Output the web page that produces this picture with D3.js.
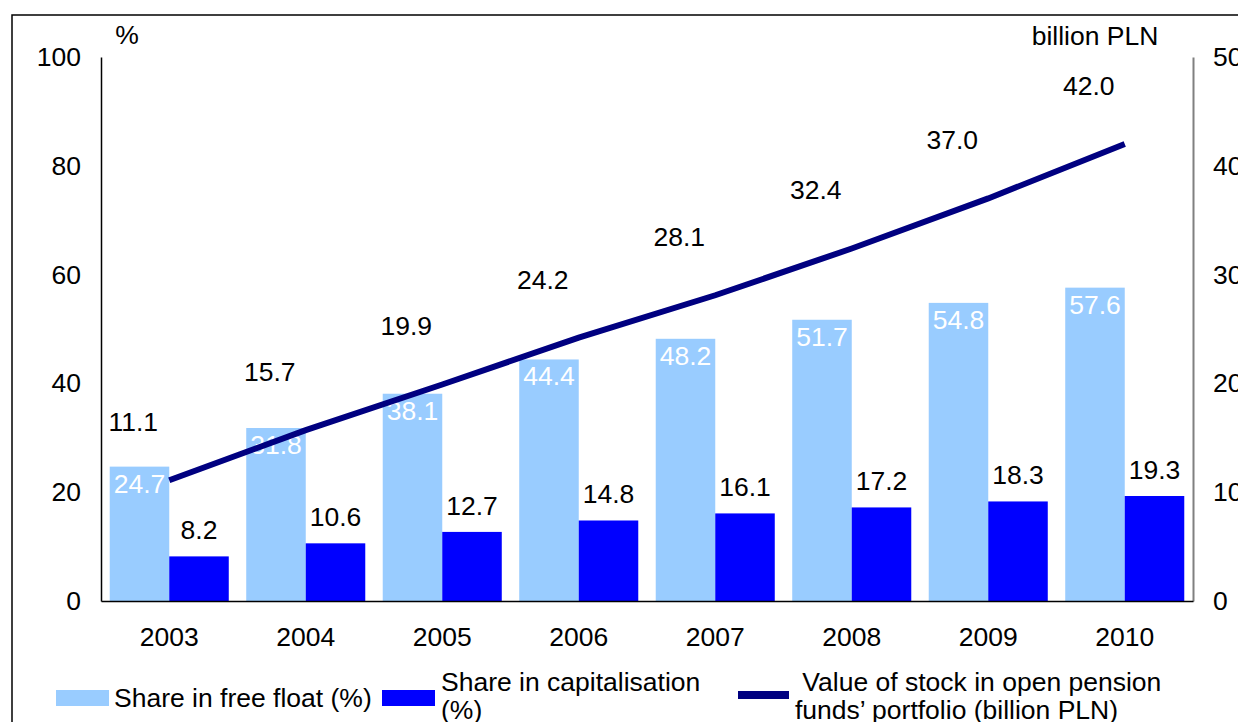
<!DOCTYPE html>
<html>
<head>
<meta charset="utf-8">
<script src="https://cdn.jsdelivr.net/npm/d3@7"></script>
<style>
  body { margin: 0; background: #fff; }
  svg { display: block; font-family: "Liberation Sans", Arial, sans-serif; }
</style>
</head>
<body>
<div class="chart"></div>
<script>
// chart data
var years = ['2003', '2004', '2005', '2006', '2007', '2008', '2009', '2010'];
var freeFloat = [24.7, 31.8, 38.1, 44.4, 48.2, 51.7, 54.8, 57.6];      // %
var capitalisation = [8.2, 10.6, 12.7, 14.8, 16.1, 17.2, 18.3, 19.3];  // %
var stockValue = [11.1, 15.7, 19.9, 24.2, 28.1, 32.4, 37.0, 42.0];     // billion PLN
var leftTicks = [0, 20, 40, 60, 80, 100];
var rightTicks = [0, 10, 20, 30, 40, 50];

var width = 1238, height = 722;
var plot = { left: 101, right: 1193, top: 57, bottom: 601 };
var fontSize = 26.5;

var svg = d3.select('.chart')
  .append('svg')
  .attr('width', width)
  .attr('height', height);

// outer frame
svg.append('rect')
  .attr('x', 12).attr('y', 15)
  .attr('width', 1300).attr('height', 800)
  .attr('fill', 'none')
  .attr('stroke', '#000')
  .attr('stroke-width', 1.5);

// scales
var x0 = d3.scaleBand()
  .domain(years)
  .range([plot.left, plot.right])
  .paddingInner(0.128)
  .paddingOuter(0.064);

var x1 = d3.scaleBand()
  .domain(['free', 'cap'])
  .range([0, x0.bandwidth()]);

var yLeft = d3.scaleLinear().domain([0, 100]).range([plot.bottom, plot.top]);
var yRight = d3.scaleLinear().domain([0, 50]).range([plot.bottom, plot.top]);

var rows = years.map(function(y, i) {
  return { year: y, free: freeFloat[i], cap: capitalisation[i], value: stockValue[i] };
});

// bars
var groups = svg.append('g').selectAll('g')
  .data(rows)
  .enter().append('g')
  .attr('transform', function(d) { return 'translate(' + x0(d.year) + ',0)'; });

groups.append('rect')
  .attr('x', x1('free'))
  .attr('y', function(d) { return yLeft(d.free); })
  .attr('width', x1.bandwidth())
  .attr('height', function(d) { return plot.bottom - yLeft(d.free); })
  .attr('fill', '#99ccff');

groups.append('rect')
  .attr('x', x1('cap'))
  .attr('y', function(d) { return yLeft(d.cap); })
  .attr('width', x1.bandwidth())
  .attr('height', function(d) { return plot.bottom - yLeft(d.cap); })
  .attr('fill', '#0000ff');

// bar labels
groups.append('text')
  .attr('x', x1('free') + x1.bandwidth() / 2)
  .attr('y', function(d) { return yLeft(d.free) + 26; })
  .attr('text-anchor', 'middle')
  .attr('font-size', fontSize)
  .attr('fill', '#fff')
  .text(function(d) { return d.free.toFixed(1); });

groups.append('text')
  .attr('x', x1('cap') + x1.bandwidth() / 2)
  .attr('y', function(d) { return yLeft(d.cap) - 17; })
  .attr('text-anchor', 'middle')
  .attr('font-size', fontSize)
  .attr('fill', '#000')
  .text(function(d) { return d.cap.toFixed(1); });

// axes
var axisLeft = d3.axisLeft(yLeft).tickValues(leftTicks).tickSize(0).tickPadding(20);
var axisRight = d3.axisRight(yRight).tickValues(rightTicks).tickSize(0).tickPadding(20);
var axisBottom = d3.axisBottom(x0).tickSize(0).tickPadding(26);

var gl = svg.append('g').attr('transform', 'translate(' + plot.left + ',0)').call(axisLeft);
gl.select('.domain').attr('stroke', '#000').attr('stroke-width', 1.5);

var gr = svg.append('g').attr('transform', 'translate(' + plot.right + ',0)').call(axisRight);
gr.select('.domain').attr('stroke', '#808080').attr('stroke-width', 2);

var gb = svg.append('g').attr('transform', 'translate(0,' + plot.bottom + ')').call(axisBottom);
gb.select('.domain').attr('stroke', '#000').attr('stroke-width', 1.5);

svg.selectAll('.tick text')
  .attr('font-size', fontSize)
  .attr('font-family', '"Liberation Sans", Arial, sans-serif')
  .attr('fill', '#000');

// axis units
svg.append('text')
  .attr('x', 127).attr('y', 44)
  .attr('text-anchor', 'middle')
  .attr('font-size', fontSize)
  .text('%');

svg.append('text')
  .attr('x', 1095).attr('y', 45)
  .attr('text-anchor', 'middle')
  .attr('font-size', fontSize)
  .text('billion PLN');

// line on right axis
var line = d3.line()
  .x(function(d) { return x0(d.year) + x0.bandwidth() / 2; })
  .y(function(d) { return yRight(d.value); });

svg.append('path')
  .datum(rows)
  .attr('d', line)
  .attr('fill', 'none')
  .attr('stroke', '#000080')
  .attr('stroke-width', 6);

svg.append('g').selectAll('text')
  .data(rows)
  .enter().append('text')
  .attr('x', function(d) { return x0(d.year) + x0.bandwidth() / 2 - 36; })
  .attr('y', function(d) { return yRight(d.value) - 49; })
  .attr('text-anchor', 'middle')
  .attr('font-size', fontSize)
  .text(function(d) { return d.value.toFixed(1); });

// legend
var legend = svg.append('g').attr('font-size', fontSize);

legend.append('rect')
  .attr('x', 56).attr('y', 690).attr('width', 53).attr('height', 16)
  .attr('fill', '#99ccff');
legend.append('text')
  .attr('x', 114).attr('y', 707)
  .text('Share in free float (%)');

legend.append('rect')
  .attr('x', 382).attr('y', 690).attr('width', 53).attr('height', 16)
  .attr('fill', '#0000ff');
legend.append('text')
  .attr('x', 441).attr('y', 691)
  .text('Share in capitalisation');
legend.append('text')
  .attr('x', 441).attr('y', 719)
  .text('(%)');

legend.append('rect')
  .attr('x', 738).attr('y', 691).attr('width', 51).attr('height', 8)
  .attr('fill', '#000080');
legend.append('text')
  .attr('x', 795).attr('y', 691)
  .attr('xml:space', 'preserve')
  .text(' Value of stock in open pension');
legend.append('text')
  .attr('x', 795).attr('y', 719)
  .text('funds\u2019 portfolio (billion PLN)');
</script>
</body>
</html>
